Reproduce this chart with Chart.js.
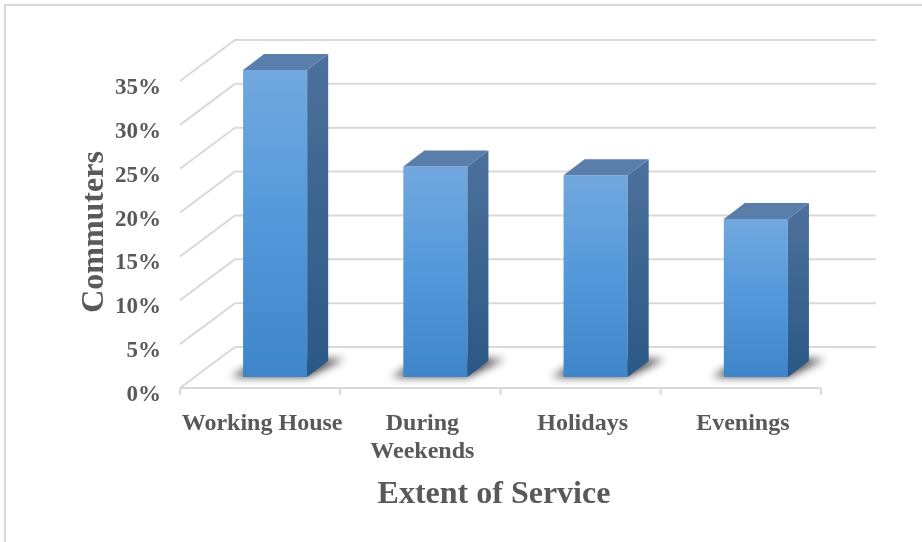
<!DOCTYPE html>
<html>
<head>
<meta charset="utf-8">
<title>Extent of Service</title>
<script src="https://cdn.jsdelivr.net/npm/chart.js@4.4.1/dist/chart.umd.min.js"></script>
<style>
  html, body { margin: 0; padding: 0; background: #fff; }
</style>
</head>
<body>
<canvas id="serviceChart" width="922" height="542"></canvas>
<script>
// Share of commuters by extent of service
const categories = [['Working House'], ['During', 'Weekends'], ['Holidays'], ['Evenings']];
const commuterShare = [35, 24, 23, 18];
const percentTicks = [0, 5, 10, 15, 20, 25, 30, 35];

const yTitle = 'Commuters';
const xTitle = 'Extent of Service';

// pseudo-3D offsets, measured from the plane the bar fronts sit on
const FLOOR_FRONT = { dx: -15, dy: 11 };
const BACK_WALL = { dx: 40, dy: -30 };
const BAR_DEPTH = { dx: 21, dy: -16 };

const GRID = '#d9d9d9';
const TEXT = '#595959';
const FONT = '"Liberation Serif", "Times New Roman", serif';

function frontGradient(context) {
  const chart = context.chart;
  const y = chart.scales.y;
  if (!y || context.raw == null) return '#4a90d4';
  const top = y.getPixelForValue(context.raw);
  const base = y.getPixelForValue(0);
  if (!isFinite(top) || !isFinite(base) || top === base) return '#4a90d4';
  const g = chart.ctx.createLinearGradient(0, top, 0, base);
  g.addColorStop(0, '#72a8df');
  g.addColorStop(0.5, '#5398da');
  g.addColorStop(1, '#3f85c9');
  return g;
}

// back wall, side wall, floor edge, shadows and the box faces
const box3d = {
  id: 'box3d',
  beforeDraw(chart) {
    const ctx = chart.ctx;
    ctx.save();
    ctx.strokeStyle = GRID;
    ctx.lineWidth = 2;
    ctx.beginPath();
    ctx.moveTo(5, chart.height);
    ctx.lineTo(5, 5);
    ctx.lineTo(chart.width, 5);
    ctx.stroke();
    ctx.restore();
  },
  beforeDatasetsDraw(chart) {
    const { ctx, chartArea: a, scales: { x, y } } = chart;
    ctx.save();
    ctx.strokeStyle = GRID;
    ctx.lineWidth = 2;
    y.ticks.forEach(t => {
      const py = y.getPixelForValue(t.value);
      ctx.beginPath();
      ctx.moveTo(a.left + FLOOR_FRONT.dx, py + FLOOR_FRONT.dy);
      ctx.lineTo(a.left + BACK_WALL.dx, py + BACK_WALL.dy);
      ctx.lineTo(a.right + BACK_WALL.dx, py + BACK_WALL.dy);
      ctx.stroke();
    });

    // front edge of the floor with category ticks
    const fy = y.getPixelForValue(0) + FLOOR_FRONT.dy;
    ctx.beginPath();
    ctx.moveTo(a.left + FLOOR_FRONT.dx, fy);
    ctx.lineTo(a.right + FLOOR_FRONT.dx, fy);
    for (let i = 0; i <= categories.length; i++) {
      const bx = x.getPixelForValue(i - 0.5) + FLOOR_FRONT.dx;
      ctx.moveTo(bx, fy);
      ctx.lineTo(bx, fy + 7);
    }
    ctx.stroke();

    // soft shadows on the floor
    const meta = chart.getDatasetMeta(0);
    ctx.filter = 'blur(4px)';
    ctx.fillStyle = 'rgba(0,0,0,0.72)';
    meta.data.forEach(bar => {
      const x0 = bar.x - bar.width / 2;
      const x1 = bar.x + bar.width / 2;
      const b = bar.base;
      ctx.beginPath();
      ctx.moveTo(x0 - 12, b);
      ctx.lineTo(x1, b);
      ctx.lineTo(x1 + BAR_DEPTH.dx + 16, b + BAR_DEPTH.dy - 2);
      ctx.lineTo(x0 + BAR_DEPTH.dx - 2, b + BAR_DEPTH.dy - 2);
      ctx.closePath();
      ctx.fill();
    });
    ctx.filter = 'none';
    ctx.restore();
  },
  afterDatasetsDraw(chart) {
    const ctx = chart.ctx;
    const meta = chart.getDatasetMeta(0);
    ctx.save();
    meta.data.forEach(bar => {
      const x0 = bar.x - bar.width / 2;
      const x1 = bar.x + bar.width / 2;
      const top = bar.y;
      const b = bar.base;
      const { dx, dy } = BAR_DEPTH;

      const side = ctx.createLinearGradient(0, top, 0, b);
      side.addColorStop(0, '#4a6f9a');
      side.addColorStop(1, '#2b5886');
      ctx.fillStyle = side;
      ctx.beginPath();
      ctx.moveTo(x1, top);
      ctx.lineTo(x1 + dx, top + dy);
      ctx.lineTo(x1 + dx, b + dy);
      ctx.lineTo(x1, b);
      ctx.closePath();
      ctx.fill();

      ctx.fillStyle = '#5a7eaa';
      ctx.beginPath();
      ctx.moveTo(x0, top);
      ctx.lineTo(x0 + dx, top + dy);
      ctx.lineTo(x1 + dx, top + dy);
      ctx.lineTo(x1, top);
      ctx.closePath();
      ctx.fill();
    });
    ctx.restore();
  },
  afterDraw(chart) {
    const ctx = chart.ctx;
    ctx.save();
    ctx.fillStyle = TEXT;
    ctx.font = 'bold 32px ' + FONT;
    ctx.textAlign = 'center';
    ctx.textBaseline = 'middle';
    ctx.fillText(xTitle, 494, 495);
    ctx.translate(95, 232);
    ctx.rotate(-Math.PI / 2);
    ctx.fillText(yTitle, 0, 0);
    ctx.restore();
  }
};

new Chart(document.getElementById('serviceChart'), {
  type: 'bar',
  data: {
    labels: categories,
    datasets: [{
      label: yTitle,
      data: commuterShare,
      backgroundColor: frontGradient,
      borderWidth: 0,
      categoryPercentage: 0.8,
      barPercentage: 0.5
    }]
  },
  options: {
    responsive: false,
    animation: false,
    layout: { padding: { top: 70, right: 86, left: 0, bottom: 0 } },
    plugins: {
      legend: { display: false },
      tooltip: { enabled: false }
    },
    scales: {
      x: {
        grid: { display: false, drawTicks: false },
        border: { display: false },
        ticks: {
          color: TEXT,
          font: { family: FONT, size: 24, weight: 'bold' },
          padding: 32,
          labelOffset: -13,
          maxRotation: 0,
          minRotation: 0,
          autoSkip: false
        },
        afterFit(scale) { scale.height = 165; }
      },
      y: {
        min: percentTicks[0],
        max: percentTicks[percentTicks.length - 1],
        grid: { display: false, drawTicks: false },
        border: { display: false },
        ticks: {
          color: TEXT,
          font: { family: FONT, size: 23, weight: 'bold' },
          padding: 34,
          labelOffset: 18,
          callback: v => v + '%'
        },
        afterBuildTicks(scale) {
          scale.ticks = percentTicks.map(v => ({ value: v }));
        },
        afterFit(scale) { scale.width = 195; }
      }
    }
  },
  plugins: [box3d]
});
</script>
</body>
</html>
